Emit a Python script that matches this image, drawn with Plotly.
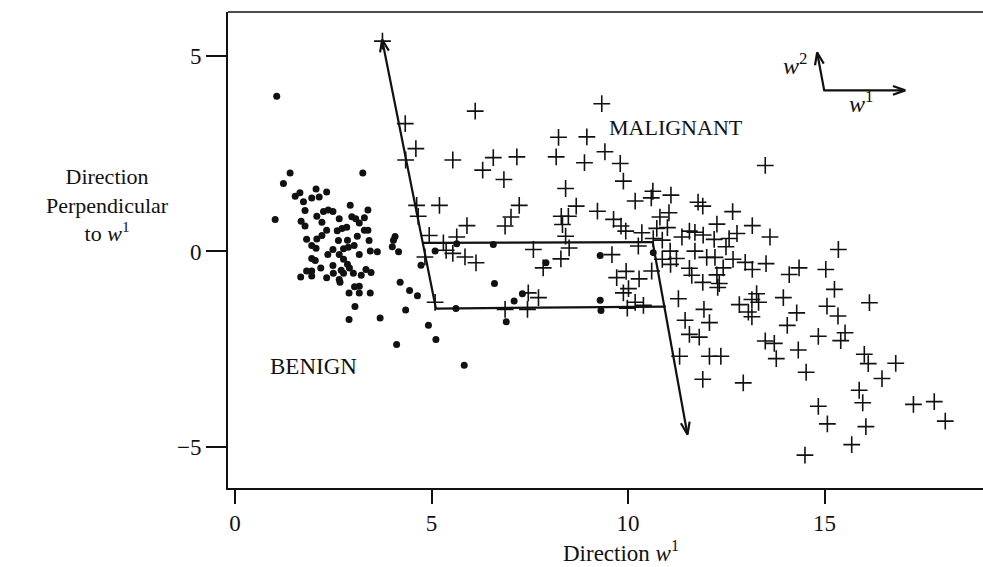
import math
import plotly.graph_objects as go

# Benign cases (dots): projected coordinates
benign_x = [1.06, 1.40, 3.25, 1.23, 1.02, 1.53, 1.65, 1.74, 1.95, 2.06, 2.14,
            2.33, 1.78, 2.08, 2.25, 2.37, 2.49, 2.93, 3.38, 2.65, 2.97,
            3.07, 3.29, 3.16, 1.68, 1.78, 2.21, 2.33, 2.72, 2.84, 2.60,
            3.29, 3.38, 2.21, 2.08, 1.82, 1.95, 2.06, 2.63, 2.86, 3.11,
            3.41, 2.49, 2.76, 2.88, 3.03, 2.36, 2.65, 3.16, 3.44, 3.62,
            1.95, 2.04, 2.76, 2.86, 2.91, 2.18, 2.49, 1.82, 1.95, 1.67,
            1.95, 2.33, 2.50, 2.70, 2.76, 3.01, 3.21, 3.33, 3.46, 2.65,
            2.67, 3.04, 3.16, 2.90, 3.16, 3.44, 3.05, 2.90, 3.69, 4.03,
            4.07, 4.00, 4.16, 4.73, 4.20, 4.44, 4.64, 4.34, 4.92, 5.11,
            4.11, 5.83, 6.60, 5.62, 6.90, 7.10, 7.31, 7.91, 9.29, 9.29,
            9.31, 5.09, 5.64, 6.57, 10.64]
benign_y = [3.97, 2.01, 2.01, 1.74, 0.82, 1.41, 1.50, 1.27, 1.37, 1.60, 1.39,
            1.52, 1.05, 0.90, 1.02, 1.06, 1.02, 1.18, 1.06, 0.84, 0.89,
            0.84, 0.86, 0.73, 0.77, 0.65, 0.75, 0.54, 0.59, 0.62, 0.53,
            0.54, 0.54, 0.41, 0.32, 0.31, 0.15, 0.08, 0.28, 0.29, 0.39,
            0.28, 0.05, 0.07, 0.11, 0.15, -0.08, -0.08, -0.08, 0.01, -0.01,
            -0.18, -0.23, -0.20, -0.33, -0.42, -0.42, -0.36, -0.50, -0.50, -0.65,
            -0.63, -0.67, -0.56, -0.48, -0.56, -0.56, -0.61, -0.46, -0.54, -0.72,
            -0.79, -0.90, -0.89, -1.06, -1.06, -1.06, -1.41, -1.74, -1.70, 0.29,
            0.38, 0.12, -0.01, -0.35, -0.79, -1.00, -1.13, -1.50, -1.89, -2.25,
            -2.38, -2.91, -0.82, -1.46, -1.80, -1.27, -1.08, -0.29, -0.10, -1.25,
            -1.51, 0.01, 0.20, 0.18, -0.03]

# Malignant cases (crosses)
malignant_x = [3.75, 4.33, 4.60, 4.34, 5.54, 6.11, 4.62, 5.20, 4.66, 5.90,
               4.94, 5.64, 5.30, 4.83, 5.37, 5.54, 5.85, 6.13, 5.09, 9.33,
               8.23, 8.95, 6.57, 7.17, 8.17, 9.41, 8.89, 9.80, 6.30, 6.84,
               9.88, 8.41, 10.63, 10.59, 11.09, 10.18, 11.78, 11.90, 7.23, 8.68,
               7.02, 6.87, 8.30, 8.48, 8.33, 9.22, 9.63, 9.82, 9.94, 10.81,
               11.04, 10.73, 11.00, 11.37, 11.56, 11.70, 10.35, 10.64, 10.87, 8.41,
               8.50, 7.59, 8.29, 9.59, 10.26, 11.07, 10.87, 11.23, 11.08, 11.70,
               11.56, 11.62, 10.60, 9.95, 9.71, 10.28, 10.01, 9.88, 7.84, 7.46,
               7.72, 10.18, 10.39, 11.28, 11.45, 6.87, 7.44, 9.98,
               12.26, 13.16, 12.66, 11.91, 12.19, 12.57, 12.77, 12.49, 12.00, 12.21,
               12.67, 12.98, 13.16, 12.42, 12.26, 12.32, 12.28, 11.90, 11.93, 12.83,
               13.27, 13.15, 13.32, 13.06, 13.15, 13.61, 15.35, 13.51, 14.10, 14.35,
               15.03, 12.07, 13.95, 15.25, 15.06, 15.34, 16.14, 14.29, 14.05, 11.56,
               11.81, 13.49, 13.72, 14.84, 15.52, 15.41, 14.33, 13.77, 11.31, 12.07,
               12.36, 16.01, 16.11, 16.81, 14.53, 11.90, 12.93, 16.46, 15.88, 15.97,
               14.84, 17.26, 17.79, 18.07, 15.07, 16.05, 15.69, 14.50, 13.49]
malignant_y = [5.38, 3.27, 2.63, 2.34, 2.34, 3.59, 1.18, 1.18, 0.90, 0.66,
               0.41, 0.37, 0.22, -0.14, 0.03, -0.05, -0.14, -0.29, -1.30, 3.78,
               2.92, 2.93, 2.40, 2.42, 2.42, 2.55, 2.27, 2.25, 2.08, 1.84,
               1.80, 1.61, 1.54, 1.37, 1.44, 1.29, 1.26, 1.16, 1.18, 1.16,
               0.88, 0.65, 0.90, 0.90, 0.69, 1.03, 0.82, 0.65, 0.52, 0.88,
               0.99, 0.59, 0.61, 0.37, 0.52, 0.49, 0.48, 0.33, 0.29, 0.39,
               0.09, 0.05, -0.19, -0.08, 0.14, 0.01, -0.20, -0.18, -0.33, 0.01,
               -0.43, -0.61, -0.50, -0.51, -0.67, -0.70, -0.95, -1.06, -0.42, -1.06,
               -1.18, -1.30, -1.38, -1.21, -1.76, -1.48, -1.48, -1.45,
               0.70, 0.66, 1.02, 0.42, 0.31, 0.33, 0.46, 0.12, -0.15, -0.15,
               -0.20, -0.28, -0.46, -0.42, -0.60, -0.82, -0.92, -0.79, -1.48, -1.36,
               -1.08, -1.23, -1.30, -1.55, -1.67, 0.37, 0.05, -0.31, -0.59, -0.42,
               -0.46, -1.82, -1.18, -0.97, -1.40, -1.65, -1.31, -1.57, -1.89, -2.12,
               -2.19, -2.29, -2.35, -2.17, -2.08, -2.28, -2.52, -2.74, -2.68, -2.68,
               -2.68, -2.63, -2.87, -2.86, -3.09, -3.27, -3.36, -3.25, -3.55, -3.87,
               -3.96, -3.91, -3.84, -4.34, -4.41, -4.48, -4.94, -5.21, 2.20]

# Projection paths drawn over the scatter
path_main_x = [3.74, 5.11, 10.96]
path_main_y = [5.42, -1.46, -1.41]
path_upper_x = [4.78, 10.66]
path_upper_y = [0.22, 0.24]
path_right_x = [10.62, 11.51]
path_right_y = [0.27, -4.68]

# Direction key (w1, w2) in the upper right
key_origin = (14.99, 4.12)
key_w1_tip = (17.05, 4.12)
key_w2_tip = (14.81, 5.09)

x_ticks = [0, 5, 10, 15]
y_ticks = [-5, 0, 5]
y_tick_text = ["\u22125", "0", "5"]

X_RANGE = [-0.18, 19.03]
Y_RANGE = [-6.05, 6.125]
W, H = 983, 567
M_L, M_R, M_T, M_B = 228, 0, 12, 79
PX_PER_X = (W - M_L - M_R) / (X_RANGE[1] - X_RANGE[0])
PX_PER_Y = (H - M_T - M_B) / (Y_RANGE[1] - Y_RANGE[0])

FONT = "Liberation Serif, Times New Roman, serif"
INK = "#111111"


def arrow_head(x0, y0, x1, y1, length=13, spread=20):
    """Open V arrowhead at (x1, y1) for the segment from (x0, y0)."""
    dx = (x1 - x0) * PX_PER_X
    dy = (y1 - y0) * PX_PER_Y
    ang = math.atan2(dy, dx)
    xs, ys = [], []
    for s in (spread, -spread):
        a = ang + math.pi + math.radians(s)
        xs.append(x1 + length * math.cos(a) / PX_PER_X)
        ys.append(y1 + length * math.sin(a) / PX_PER_Y)
    return [xs[0], x1, xs[1]], [ys[0], y1, ys[1]]


fig = go.Figure()

fig.add_trace(go.Scatter(
    x=benign_x, y=benign_y, mode="markers", name="Benign",
    marker=dict(symbol="circle", size=7, color=INK),
))
fig.add_trace(go.Scatter(
    x=malignant_x, y=malignant_y, mode="markers", name="Malignant",
    marker=dict(symbol="cross-thin", size=12, line=dict(width=1.6, color=INK)),
))

line_style = dict(color=INK, width=2.2)
for px, py in [(path_main_x, path_main_y), (path_upper_x, path_upper_y),
               (path_right_x, path_right_y)]:
    fig.add_trace(go.Scatter(x=px, y=py, mode="lines", line=line_style,
                             hoverinfo="skip"))

heads = [
    (path_main_x[1], path_main_y[1], path_main_x[0], path_main_y[0]),
    (path_right_x[0], path_right_y[0], path_right_x[1], path_right_y[1]),
    (key_origin[0], key_origin[1], key_w1_tip[0], key_w1_tip[1]),
    (key_origin[0], key_origin[1], key_w2_tip[0], key_w2_tip[1]),
]
for x0, y0, x1, y1 in heads:
    hx, hy = arrow_head(x0, y0, x1, y1)
    fig.add_trace(go.Scatter(x=hx, y=hy, mode="lines", line=line_style,
                             hoverinfo="skip"))

fig.add_trace(go.Scatter(
    x=[key_w2_tip[0], key_origin[0], key_w1_tip[0]],
    y=[key_w2_tip[1], key_origin[1], key_w1_tip[1]],
    mode="lines", line=line_style, hoverinfo="skip"))

annotations = [
    dict(x=11.22, y=3.17, text="MALIGNANT", size=22),
    dict(x=2.0, y=-2.94, text="BENIGN", size=23),
    dict(x=14.25, y=4.80, text="<i>w</i><sup>2</sup>", size=24),
    dict(x=15.93, y=3.83, text="<i>w</i><sup>1</sup>", size=24),
]
for a in annotations:
    fig.add_annotation(x=a["x"], y=a["y"], xref="x", yref="y", text=a["text"],
                       showarrow=False, font=dict(family=FONT, size=a["size"], color=INK))

# Y axis title
fig.add_annotation(x=-0.16, y=1.20, xref="paper", yref="y",
                   text="Direction<br>Perpendicular<br>to <i>w</i><sup>1</sup>",
                   showarrow=False, xanchor="center", yanchor="middle",
                   align="center", font=dict(family=FONT, size=22, color=INK))

# X axis title
fig.add_annotation(x=0.52, y=-0.133, xref="paper", yref="paper",
                   text="Direction <i>w</i><sup>1</sup>", showarrow=False,
                   xanchor="center", yanchor="middle",
                   font=dict(family=FONT, size=23, color=INK))

# Top border of the frame
fig.add_shape(type="line", xref="paper", yref="paper", x0=0, x1=1, y0=1, y1=1,
              line=dict(color=INK, width=1.6))

fig.update_layout(
    width=W, height=H,
    margin=dict(l=M_L, r=M_R, t=M_T, b=M_B),
    paper_bgcolor="white", plot_bgcolor="white",
    showlegend=False,
    xaxis=dict(range=X_RANGE, tickvals=x_ticks, ticks="outside", ticklen=14,
               tickwidth=1.6, tickcolor=INK, showline=True, linecolor=INK,
               linewidth=1.6, showgrid=False, zeroline=False,
               tickfont=dict(family=FONT, size=23, color=INK)),
    yaxis=dict(range=Y_RANGE, tickvals=y_ticks, ticktext=y_tick_text,
               ticks="outside", ticklen=20, tickwidth=1.6, tickcolor=INK,
               showline=True, linecolor=INK, linewidth=1.6, showgrid=False,
               zeroline=False, tickfont=dict(family=FONT, size=23, color=INK)),
)

fig.write_html("out.html")
